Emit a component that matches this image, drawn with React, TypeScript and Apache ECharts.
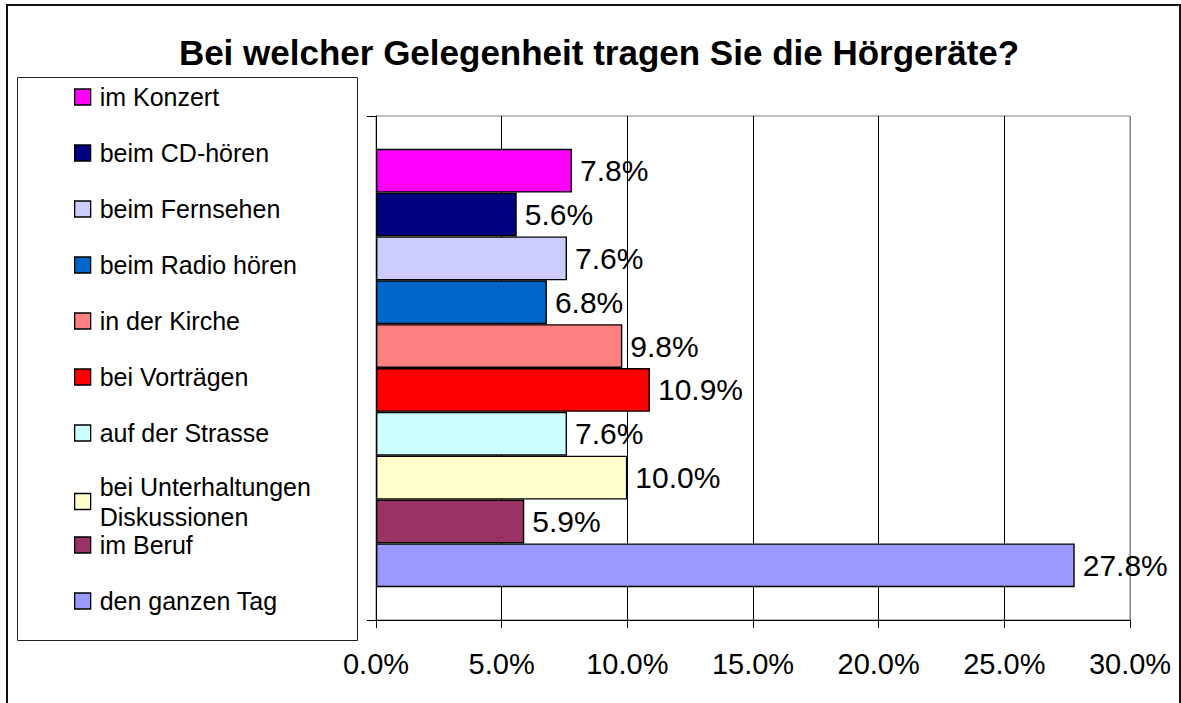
import React, { useEffect, useRef } from "react";
import * as echarts from "echarts";

const categories = [
  "im Konzert",
  "beim CD-hören",
  "beim Fernsehen",
  "beim Radio hören",
  "in der Kirche",
  "bei Vorträgen",
  "auf der Strasse",
  "bei Unterhaltungen\nDiskussionen",
  "im Beruf",
  "den ganzen Tag",
];
const values = [7.8, 5.6, 7.6, 6.8, 9.8, 10.9, 7.6, 10.0, 5.9, 27.8];
const colors = [
  "#FF00FF",
  "#000080",
  "#CCCCFF",
  "#0066CC",
  "#FF8080",
  "#FF0000",
  "#CCFFFF",
  "#FFFFCC",
  "#993366",
  "#9999FF",
];
const xMin = 0;
const xMax = 30;
const xStep = 5;

const FONT = "'Liberation Sans', Arial, sans-serif";

export default function App() {
  const ref = useRef<HTMLDivElement>(null);
  useEffect(() => {
    if (!ref.current) return;
    const chart = echarts.init(ref.current, null, { renderer: "svg" });
    const series = categories.map((name, i) => ({
      name,
      type: "bar",
      data: [values[i]],
      barGap: "0%",
      barCategoryGap: "13%",
      itemStyle: { color: colors[i], borderColor: "#000", borderWidth: 1.4 },
      label: {
        show: true,
        position: "right",
        distance: 8,
        fontSize: 30,
        fontFamily: FONT,
        color: "#000",
        formatter: (p: any) => Number(p.value).toFixed(1) + "%",
      },
      emphasis: { disabled: true },
    }));
    const legendText = {
      fontSize: 25,
      lineHeight: 30,
      fontFamily: FONT,
      color: "#000",
      padding: [0, 0, 0, 4],
    };
    const firstNames = categories.slice(0, 8).map((n) =>
      n.indexOf("\n") >= 0 ? { name: n, textStyle: { height: 30 } } : { name: n }
    );
    const secondNames = categories.slice(8).map((n) => ({ name: n }));
    chart.setOption({
      animation: false,
      backgroundColor: "#fff",
      graphic: [
        {
          type: "rect",
          shape: { x: 7, y: 5, width: 1173, height: 720 },
          style: { fill: "none", stroke: "#111", lineWidth: 2 },
          silent: true,
        },
        {
          type: "rect",
          shape: { x: 17.5, y: 77.5, width: 340, height: 563 },
          style: { fill: "#fff", stroke: "#222", lineWidth: 1 },
          silent: true,
          z: -1,
        },
        {
          type: "text",
          x: 599,
          y: 52,
          style: {
            text: "Bei welcher Gelegenheit tragen Sie die Hörgeräte?",
            fontSize: 35,
            fontWeight: "bold",
            fontFamily: FONT,
            fill: "#000",
            textAlign: "center",
            textVerticalAlign: "middle",
          },
          silent: true,
        },
      ],
      legend: [
        {
          orient: "vertical",
          left: 74,
          top: 82,
          padding: 0,
          itemGap: 26,
          itemWidth: 16,
          itemHeight: 16,
          icon: "rect",
          selectedMode: false,
          itemStyle: { borderColor: "#000", borderWidth: 1.3 },
          textStyle: legendText,
          data: firstNames,
        },
        {
          orient: "vertical",
          left: 74,
          top: 530,
          padding: 0,
          itemGap: 26,
          itemWidth: 16,
          itemHeight: 16,
          icon: "rect",
          selectedMode: false,
          itemStyle: { borderColor: "#000", borderWidth: 1.3 },
          textStyle: legendText,
          data: secondNames,
        },
      ],
      grid: {
        left: 376,
        right: 51,
        top: 116,
        bottom: 83,
        show: true,
        borderColor: "#808080",
        borderWidth: 1,
        backgroundColor: "transparent",
      },
      xAxis: {
        type: "value",
        min: xMin,
        max: xMax,
        interval: xStep,
        axisLine: { show: true, lineStyle: { color: "#000", width: 1 } },
        axisTick: { show: true, length: 8, lineStyle: { color: "#000" } },
        axisLabel: {
          fontSize: 29,
          fontFamily: FONT,
          color: "#000",
          margin: 29,
          formatter: (v: number) => v.toFixed(1) + "%",
        },
        splitLine: {
          show: true,
          lineStyle: {
            color: ["#000", "#000", "#000", "#000", "#000", "#000", "#808080"],
            width: 1,
          },
        },
      },
      yAxis: {
        type: "category",
        data: [""],
        axisLine: { show: true, lineStyle: { color: "#000", width: 1 } },
        axisTick: { show: true, length: 9, lineStyle: { color: "#000" } },
        axisLabel: { show: false },
        splitLine: { show: false },
      },
      series,
    });
    return () => chart.dispose();
  }, []);
  return (
    <div
      ref={ref}
      style={{ position: "fixed", left: 0, top: 0, width: 1181, height: 703 }}
    />
  );
}
